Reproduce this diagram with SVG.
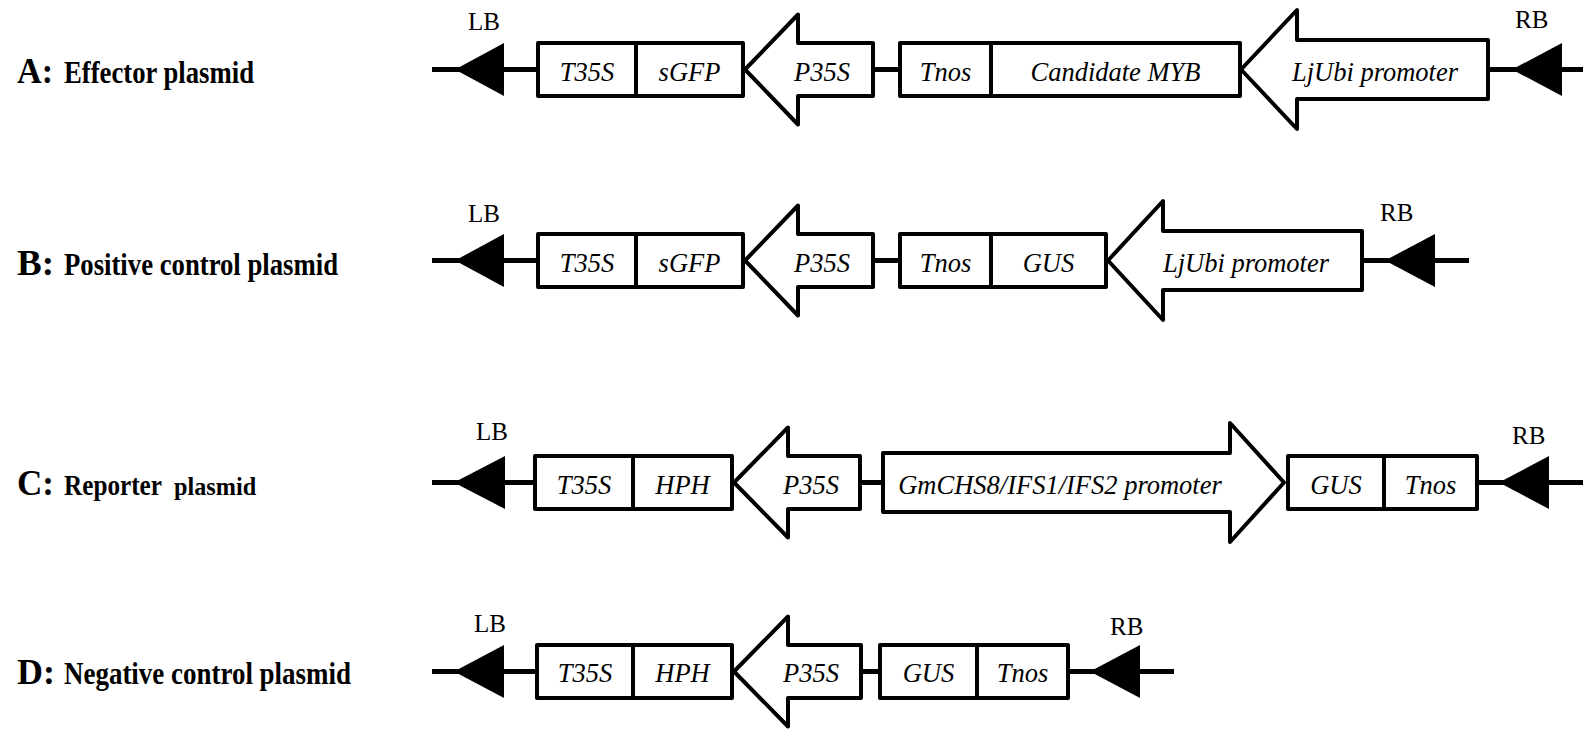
<svg xmlns="http://www.w3.org/2000/svg" width="1583" height="730" viewBox="0 0 1583 730">
  <style>
    .bx { fill: #fff; stroke: #000; stroke-width: 4; stroke-linejoin: round; }
    .bb { stroke: #000; stroke-width: 5; fill: none; }
    .tri { fill: #000; stroke: none; }
    .el { font-family: "Liberation Serif", "Times New Roman", serif; font-style: italic; font-size: 26.5px; text-anchor: middle; fill: #000; }
    .bd { font-family: "Liberation Serif", "Times New Roman", serif; font-size: 25px; fill: #000; }
    .lk { font-family: "Liberation Serif", "Times New Roman", serif; font-weight: bold; font-size: 35px; fill: #000; }
    .ln { font-family: "Liberation Serif", "Times New Roman", serif; font-weight: bold; font-size: 30.5px; fill: #000; }
  </style>
  <rect width="1583" height="730" fill="#fff"/>

  <!-- backbone segments between elements -->
  <g id="connectors">
    <line class="bb" x1="432" y1="69.5" x2="538" y2="69.5"/>
    <line class="bb" x1="873" y1="69.5" x2="900" y2="69.5"/>
    <line class="bb" x1="1488" y1="69.5" x2="1583" y2="69.5"/>

    <line class="bb" x1="432" y1="260.5" x2="538" y2="260.5"/>
    <line class="bb" x1="873" y1="260.5" x2="900" y2="260.5"/>
    <line class="bb" x1="1362" y1="260.5" x2="1469" y2="260.5"/>

    <line class="bb" x1="432" y1="482.5" x2="535" y2="482.5"/>
    <line class="bb" x1="860" y1="482.5" x2="883" y2="482.5"/>
    <line class="bb" x1="1477" y1="482.5" x2="1583" y2="482.5"/>

    <line class="bb" x1="432" y1="671.5" x2="537" y2="671.5"/>
    <line class="bb" x1="861" y1="671.5" x2="880" y2="671.5"/>
    <line class="bb" x1="1068" y1="671.5" x2="1174" y2="671.5"/>
  </g>

  <!-- A: effector plasmid -->
  <g id="label-a">
    <text class="lk" x="17" y="83" textLength="36" lengthAdjust="spacingAndGlyphs">A:</text>
    <text class="ln" x="64" y="83" textLength="190" lengthAdjust="spacingAndGlyphs">Effector plasmid</text>
  </g>
  <g id="a-lb">
    <polygon class="tri" points="455,69.5 504,43 504,96"/>
    <text class="bd" x="468" y="30">LB</text>
  </g>
  <g id="a-t35s"><rect class="bx" x="538" y="43" width="98" height="53"/><text class="el" x="587" y="81">T35S</text></g>
  <g id="a-sgfp"><rect class="bx" x="636" y="43" width="107" height="53"/><text class="el" x="689.5" y="81">sGFP</text></g>
  <g id="a-p35s"><polygon class="bx" points="745,69.5 798,14.5 798,43 873,43 873,96 798,96 798,124.5"/><text class="el" x="822" y="81">P35S</text></g>
  <g id="a-tnos"><rect class="bx" x="900" y="43" width="91" height="53"/><text class="el" x="945.5" y="81">Tnos</text></g>
  <g id="a-myb"><rect class="bx" x="991" y="43" width="249" height="53"/><text class="el" x="1115.5" y="81">Candidate MYB</text></g>
  <g id="a-ljubi"><polygon class="bx" points="1241,69.5 1297,10 1297,40 1488,40 1488,99 1297,99 1297,129"/><text class="el" x="1375" y="81">LjUbi promoter</text></g>
  <g id="a-rb">
    <polygon class="tri" points="1512,69.5 1562,43 1562,96"/>
    <text class="bd" x="1515" y="28">RB</text>
  </g>

  <!-- B: positive control plasmid -->
  <g id="label-b">
    <text class="lk" x="17" y="274.5" textLength="37" lengthAdjust="spacingAndGlyphs">B:</text>
    <text class="ln" x="64" y="274.5" textLength="274" lengthAdjust="spacingAndGlyphs">Positive control plasmid</text>
  </g>
  <g id="b-lb">
    <polygon class="tri" points="455,260.5 504,234 504,287"/>
    <text class="bd" x="468" y="222">LB</text>
  </g>
  <g id="b-t35s"><rect class="bx" x="538" y="234" width="98" height="53"/><text class="el" x="587" y="272">T35S</text></g>
  <g id="b-sgfp"><rect class="bx" x="636" y="234" width="107" height="53"/><text class="el" x="689.5" y="272">sGFP</text></g>
  <g id="b-p35s"><polygon class="bx" points="745,260.5 798,205.5 798,234 873,234 873,287 798,287 798,315.5"/><text class="el" x="822" y="272">P35S</text></g>
  <g id="b-tnos"><rect class="bx" x="900" y="234" width="91" height="53"/><text class="el" x="945.5" y="272">Tnos</text></g>
  <g id="b-gus"><rect class="bx" x="991" y="234" width="115" height="53"/><text class="el" x="1048.5" y="272">GUS</text></g>
  <g id="b-ljubi"><polygon class="bx" points="1108,260.5 1163,201 1163,231 1362,231 1362,290 1163,290 1163,320"/><text class="el" x="1246" y="272">LjUbi promoter</text></g>
  <g id="b-rb">
    <polygon class="tri" points="1385,260.5 1435,234 1435,287"/>
    <text class="bd" x="1380" y="221">RB</text>
  </g>

  <!-- C: reporter plasmid ("plasmid" set smaller than "Reporter") -->
  <g id="label-c">
    <text class="lk" x="17" y="495" textLength="37" lengthAdjust="spacingAndGlyphs">C:</text>
    <text class="ln" transform="translate(64,495) scale(0.827,1)">Reporter</text>
    <text class="ln" transform="translate(174,495) scale(0.97,1)" style="font-size:25px">plasmid</text>
  </g>
  <g id="c-lb">
    <polygon class="tri" points="454,482.5 505,456 505,509"/>
    <text class="bd" x="476" y="440">LB</text>
  </g>
  <g id="c-t35s"><rect class="bx" x="535" y="456" width="98" height="53"/><text class="el" x="584" y="494">T35S</text></g>
  <g id="c-hph"><rect class="bx" x="633" y="456" width="99" height="53"/><text class="el" x="682.5" y="494">HPH</text></g>
  <g id="c-p35s"><polygon class="bx" points="734,482.5 788,427.5 788,456 860,456 860,509 788,509 788,537.5"/><text class="el" x="811" y="494">P35S</text></g>
  <g id="c-promoter"><polygon class="bx" points="883,453 1230,453 1230,423 1284,482.5 1230,542 1230,512 883,512"/><text class="el" x="1060" y="494">GmCHS8/IFS1/IFS2 promoter</text></g>
  <g id="c-gus"><rect class="bx" x="1288" y="456" width="96" height="53"/><text class="el" x="1336" y="494">GUS</text></g>
  <g id="c-tnos"><rect class="bx" x="1384" y="456" width="93" height="53"/><text class="el" x="1430.5" y="494">Tnos</text></g>
  <g id="c-rb">
    <polygon class="tri" points="1499,482.5 1549,456 1549,509"/>
    <text class="bd" x="1512" y="444">RB</text>
  </g>

  <!-- D: negative control plasmid -->
  <g id="label-d">
    <text class="lk" x="17" y="684" textLength="38" lengthAdjust="spacingAndGlyphs">D:</text>
    <text class="ln" x="64" y="684" textLength="287" lengthAdjust="spacingAndGlyphs">Negative control plasmid</text>
  </g>
  <g id="d-lb">
    <polygon class="tri" points="454,671.5 504,645 504,698"/>
    <text class="bd" x="474" y="632">LB</text>
  </g>
  <g id="d-t35s"><rect class="bx" x="537" y="645" width="96" height="53"/><text class="el" x="585" y="682">T35S</text></g>
  <g id="d-hph"><rect class="bx" x="633" y="645" width="99" height="53"/><text class="el" x="682.5" y="682">HPH</text></g>
  <g id="d-p35s"><polygon class="bx" points="734,671.5 788,616.5 788,645 861,645 861,698 788,698 788,726.5"/><text class="el" x="811" y="682">P35S</text></g>
  <g id="d-gus"><rect class="bx" x="880" y="645" width="97" height="53"/><text class="el" x="928.5" y="682">GUS</text></g>
  <g id="d-tnos"><rect class="bx" x="977" y="645" width="91" height="53"/><text class="el" x="1022.5" y="682">Tnos</text></g>
  <g id="d-rb">
    <polygon class="tri" points="1090,671.5 1140,645 1140,698"/>
    <text class="bd" x="1110" y="635">RB</text>
  </g>
</svg>
